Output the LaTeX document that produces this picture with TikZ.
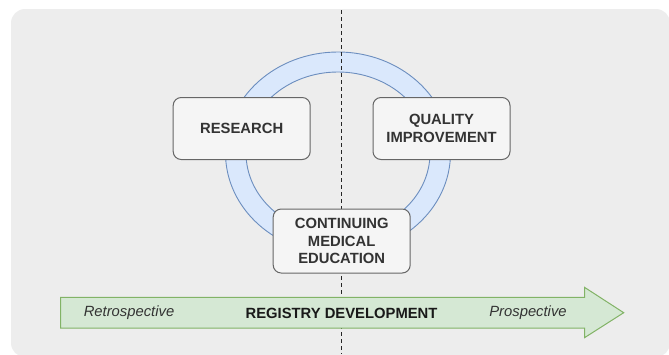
\documentclass[tikz,border=0pt]{standalone}
\usepackage{fontspec}
\setmainfont{Liberation Sans}
\usetikzlibrary{positioning}

\definecolor{bggray}{HTML}{EDEDED}
\definecolor{ringfill}{HTML}{DAE8FC}
\definecolor{ringline}{HTML}{6C8EBF}
\definecolor{boxfill}{HTML}{F5F5F5}
\definecolor{boxline}{HTML}{666666}
\definecolor{txtgray}{HTML}{333333}
\definecolor{arrowfill}{HTML}{D5E8D4}
\definecolor{arrowline}{HTML}{82B366}

\tikzset{
  stagebox/.style={draw=boxline, fill=boxfill, line width=1pt, rounded corners=8pt,
    minimum width=137pt, align=center, text=txtgray,
    font=\fontsize{14.8}{17.3}\selectfont\bfseries},
  ring/.style={draw=ringline, fill=ringfill, line width=0.9pt, even odd rule},
  divider/.style={draw=black!85, line width=1.8pt, dash pattern=on 4pt off 3pt},
  devarrow/.style={draw=arrowline, fill=arrowfill, line width=1pt},
  phase/.style={text=txtgray, font=\fontsize{14.8}{17.3}\selectfont\itshape}
}

\begin{document}
\begin{tikzpicture}[x=1pt,y=-1pt]
\clip (0,0) rectangle (669,354);
\fill[bggray, rounded corners=14pt] (11,9) rectangle (670,357);

% cycle ring
\path[ring] (338,153) ellipse [x radius=112.5, y radius=101]
            (338,153) ellipse [x radius=92, y radius=81];

\coordinate (divtop) at (341.5,10);
\coordinate (divbot) at (341.5,354);
\draw[divider] (divtop) -- (divbot);

\node[stagebox, minimum height=62pt](research) at (241.7,128.5){RESEARCH};
\node[stagebox, minimum height=62pt](quality) at (441.5,128.5){QUALITY\\IMPROVEMENT};
\node[stagebox, minimum height=64pt](cme) at (341.7,241){CONTINUING\\MEDICAL\\EDUCATION};

% development arrow
\draw[devarrow] (60.6,297.3) -- (584.5,297.3) -- (584.5,287.3) -- (623.7,312.7)
  -- (584.5,337.7) -- (584.5,328) -- (60.6,328) -- cycle;

\node[phase](retro) at (129,313){Retrospective};
\node[font=\fontsize{14.8}{17.3}\selectfont\bfseries, text=black!90](registry) at (341.5,313){REGISTRY DEVELOPMENT};
\node[phase](prosp) at (528,313){Prospective};
\end{tikzpicture}
\end{document}
